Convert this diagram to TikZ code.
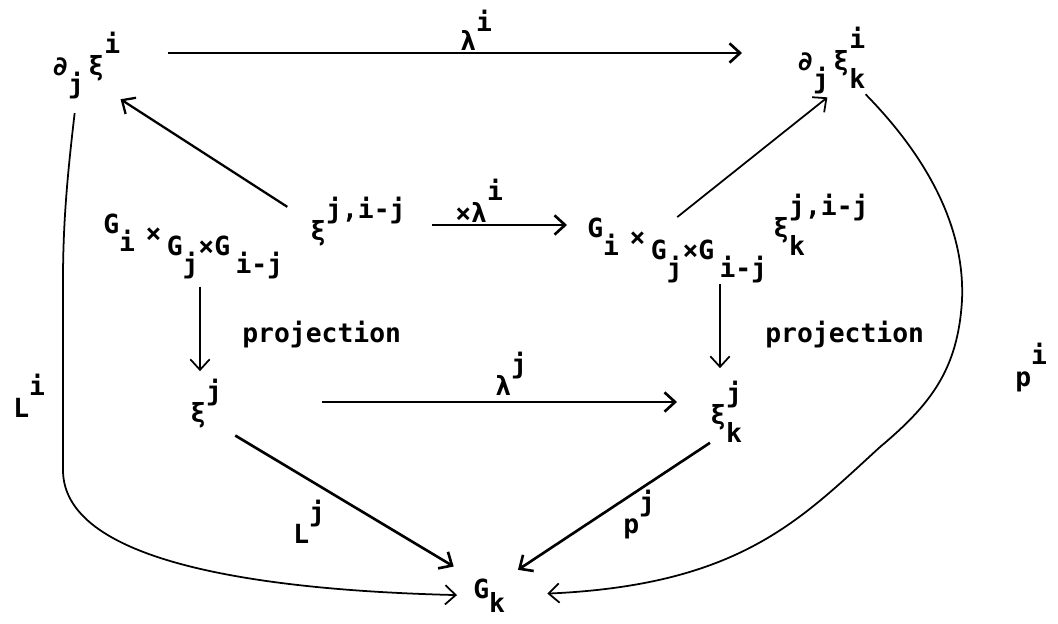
\documentclass[tikz,border=0pt]{standalone}
\usepackage{fontspec}
\setmainfont{DejaVu Sans Mono}
\usetikzlibrary{arrows.meta}
% typewriter-style half-line shifts
\newcommand{\hi}[1]{\raisebox{0.8em}{#1}}
\newcommand{\lo}[1]{\raisebox{-0.7em}{#1}}
\newcommand{\hilo}[2]{\rlap{\hi{#1}}\lo{#2}}
\tikzset{
  obj/.style={anchor=base west, inner sep=0pt, font=\fontsize{15}{18}\selectfont\bfseries},
  arr/.style={-{Straight Barb[length=6pt,width=11pt]}, line width=1pt},
  bigarr/.style={arr, line width=1.5pt},
}
\begin{document}
\begin{tikzpicture}[x=0.02cm,y=-0.02cm]
  \useasboundingbox (0,0) rectangle (1058,623);
  % objects
  \node[obj] (dxi) at (52,75) {∂\lo{j}\,ξ\hi{i}};
  \node[obj] (dxik) at (797,70) {∂\lo{j}\,ξ\hilo{i}{k}};
  \node[obj] (prodl) at (103,233) {G\lo{i}\hspace{0.4em}\raisebox{-0.35em}{×}\hspace{0.2em}\raisebox{-0.85em}{G\lo{j}×G\hspace{0.2em}\lo{i-j}}};
  \node[obj] (fibl) at (310,240) {ξ\hi{j,i-j}};
  \node[obj] (prodr) at (587,237) {G\lo{i}\hspace{0.4em}\raisebox{-0.35em}{×}\hspace{0.2em}\raisebox{-0.85em}{G\lo{j}×G\hspace{0.2em}\lo{i-j}}};
  \node[obj] (fibr) at (773,237) {ξ\hilo{j,i-j}{k}};
  \node[obj] (xij) at (190,422) {ξ\hi{j}};
  \node[obj] (xijk) at (710,424) {ξ\hilo{j}{k}};
  \node[obj] (gk) at (473,598) {G\raisebox{-0.55em}{k}};
  % labels
  \node[obj] (lami) at (460,50) {λ\raisebox{0.7em}{i}};
  \node[obj] (xlami) at (455,222) {×λ\hi{i}};
  \node[obj] (lamj) at (495,395) {λ\hi{j}};
  \node[obj] (projl) at (242,342) {projection};
  \node[obj] (projr) at (765,342) {projection};
  \node[obj] (Li) at (13,417) {L\hi{i}};
  \node[obj] (pi) at (1015,386) {p\hi{i}};
  \node[obj] (Lj) at (293,543) {L\hi{j}};
  \node[obj] (pj) at (623,533) {p\hi{j}};
  % arrows
  \draw[bigarr, shorten <=0.94cm, shorten >=1.1cm] (dxi.east |- 0,53) -- (dxik.west |- 0,53);
  \draw[bigarr, shorten <=0.52cm, shorten >=0.4cm] (fibl.east |- 0,225) -- (prodr.west |- 0,225);
  \draw[bigarr, shorten <=2cm, shorten >=0.66cm] (xij.east |- 0,402) -- (xijk.west |- 0,402);
  \draw[arr, shorten <=0.14cm, shorten >=0.16cm] (200,0 |- prodl.south) -- (200,0 |- xij.north);
  \draw[arr, shorten >=0.26cm] (720,0 |- prodr.south) -- (720,0 |- xijk.north);
  \draw[arr, line width=1.3pt, shorten <=0.54cm] (fibl.west) -- (dxi.south east);
  \draw[arr, shorten >=0.1cm] (prodr.north) -- (dxik.south);
  \draw[bigarr, shorten <=0.3cm, shorten >=0.45cm] (xij.south east) -- (gk.north west);
  \draw[bigarr, shorten >=0.3cm] (xijk.south west) -- (gk.north east);
  \draw[arr, shorten <=0.28cm, shorten >=0.32cm] ([xshift=-0.2cm]dxi.south)
    .. controls (68,170) and (63,220) .. (63,280) -- (63,470)
    .. controls (63,560) and (250,590) .. (gk.west);
  \draw[arr, shorten >=0.84cm] (dxik.south east)
    .. controls (930,160) and (965,230) .. (962,300)
    .. controls (958,370) and (930,405) .. (880,447)
    .. controls (800,520) and (740,585) .. (gk.east);
\end{tikzpicture}
\end{document}
